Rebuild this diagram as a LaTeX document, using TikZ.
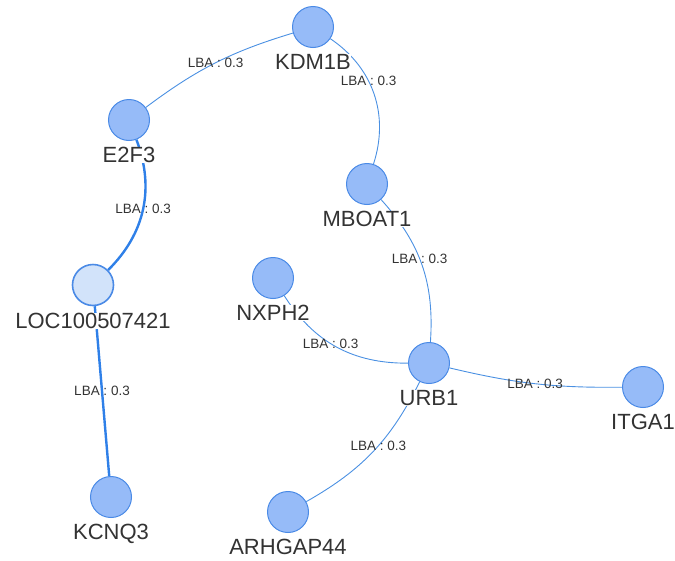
\documentclass[tikz,border=0pt]{standalone}
\usepackage{fontspec}
\setmainfont{Liberation Sans}
\usepackage{xcolor}
\usepackage{tikz}
\usetikzlibrary{positioning}

\definecolor{genefill}{HTML}{96BBF8}
\definecolor{geneline}{HTML}{4A8AE6}
\definecolor{locfill}{HTML}{D2E3FA}
\definecolor{edgecol}{HTML}{4A90E2}
\definecolor{thickcol}{HTML}{2F80E8}
\definecolor{txtcol}{HTML}{333333}

\begin{document}
\begin{tikzpicture}[x=1pt,y=-1pt,
  gene/.style={circle, draw=geneline, fill=genefill, line width=1pt, minimum size=41pt, inner sep=0pt},
  glabel/.style={fill=white, inner sep=0.3pt, text=txtcol, font=\fontsize{22}{24}\selectfont},
  lba/.style={draw=edgecol, line width=0.9pt},
  lbathick/.style={draw=thickcol, line width=2.4pt},
  elabel/.style={inner sep=0pt, text=txtcol, font=\fontsize{13.5}{15}\selectfont}]
\useasboundingbox (0,0) rectangle (675,560);

\node[gene] (kdm) at (313,27) {};
\node[gene] (e2f) at (129,120) {};
\node[gene, fill=locfill, line width=1.6pt] (loc) at (93,285) {};
\node[gene] (kcn) at (111,497) {};
\node[gene] (mbo) at (367,184) {};
\node[gene] (nxp) at (273,278) {};
\node[gene] (urb) at (429,363) {};
\node[gene] (itg) at (643,387) {};
\node[gene] (arh) at (288,512) {};

\draw[lba] (e2f) to[bend left=10] node[elabel]{LBA : 0.3} (kdm);
\draw[lba] (kdm) to[bend left=37] node[elabel, pos=0.4]{LBA : 0.3} (mbo);
\draw[lbathick] (e2f) to[bend left=33] node[elabel]{LBA : 0.3} (loc);
\draw[lbathick] (loc) -- node[elabel]{LBA : 0.3} (kcn);
\draw[lba] (mbo) to[bend left=23] node[elabel, pos=0.45]{LBA : 0.3} (urb);
\draw[lba] (nxp) to[bend right=29] node[elabel, pos=0.45]{LBA : 0.3} (urb);
\draw[lba] (urb) to[bend right=7] node[elabel]{LBA : 0.3} (itg);
\draw[lba] (urb) to[bend left=17] node[elabel, pos=0.45]{LBA : 0.3} (arh);

\node[glabel, below=6pt of kdm] (kdmtxt) {KDM1B};
\node[glabel, below=6pt of e2f] (e2ftxt) {E2F3};
\node[glabel, below=6pt of loc] (loctxt) {LOC100507421};
\node[glabel, below=6pt of kcn] (kcntxt) {KCNQ3};
\node[glabel, below=6pt of mbo] (mbotxt) {MBOAT1};
\node[glabel, below=6pt of nxp] (nxptxt) {NXPH2};
\node[glabel, below=6pt of urb] (urbtxt) {URB1};
\node[glabel, below=6pt of itg] (itgtxt) {ITGA1};
\node[glabel, below=6pt of arh] (arhtxt) {ARHGAP44};
\end{tikzpicture}
\end{document}
